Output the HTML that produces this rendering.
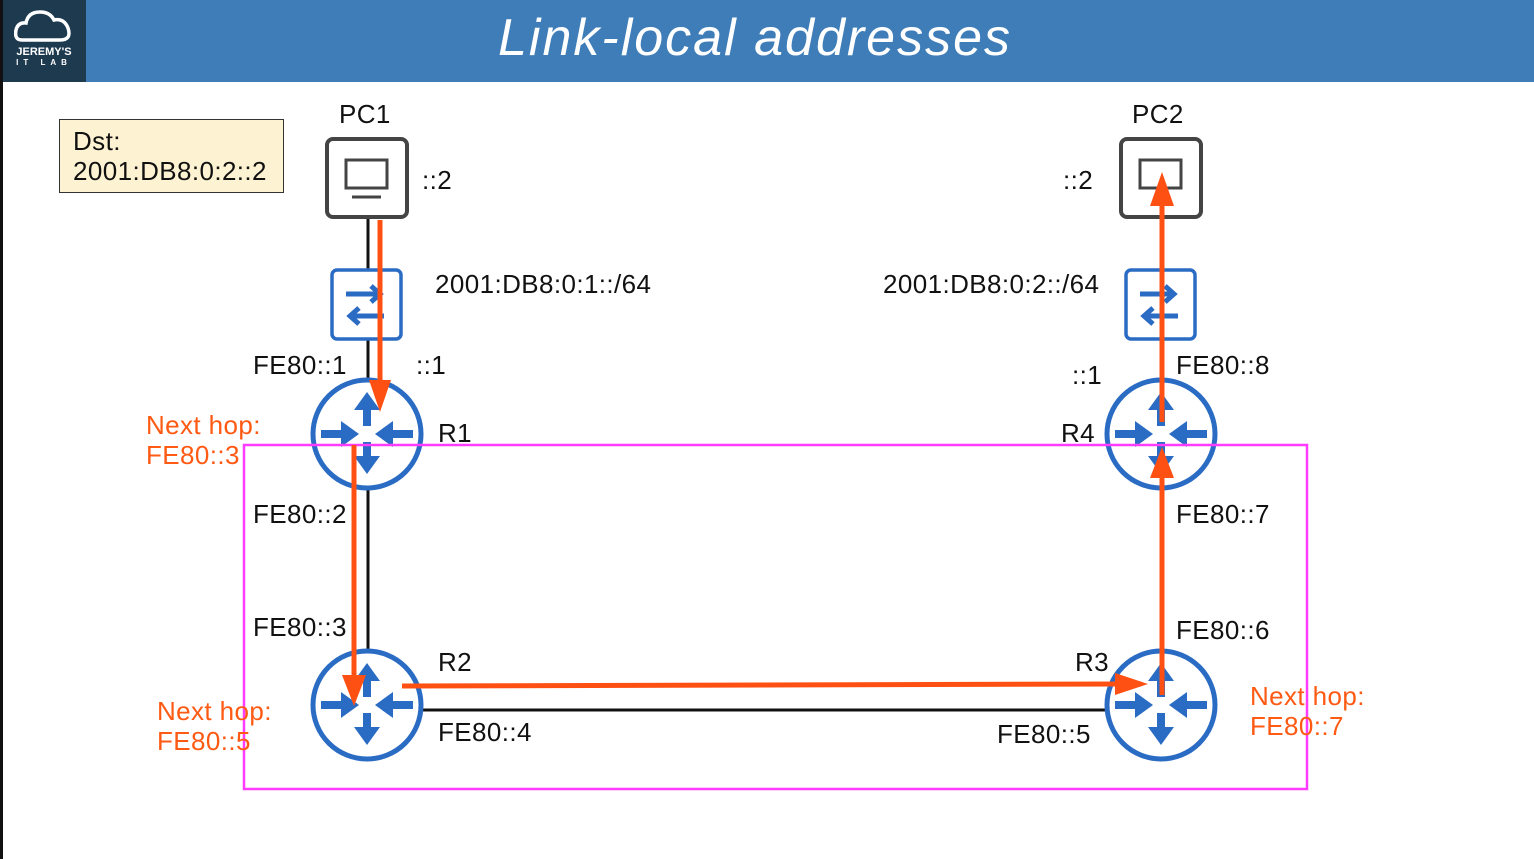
<!DOCTYPE html>
<html><head><style>
body{margin:0;width:1534px;height:859px;background:#fff;position:relative;overflow:hidden;font-family:"Liberation Sans",sans-serif}
.t{position:absolute;font-size:26px;letter-spacing:0.4px;color:#111;white-space:nowrap;line-height:1}
.o{color:#ff5a14}
</style></head><body>
<div style="position:absolute;left:0;top:0;width:3px;height:859px;background:#111"></div>
<div style="position:absolute;left:3px;top:0;width:1531px;height:82px;background:#3f7db8"></div>
<div style="position:absolute;left:3px;top:0;width:83px;height:82px;background:#1e3a4f"></div>
<div style="position:absolute;left:8px;top:47px;color:#fff;font-size:11px;font-weight:bold;width:72px;text-align:center;line-height:10px">JEREMY'S<br><span style="font-size:8px;letter-spacing:5px">IT LAB</span></div>
<svg style="position:absolute;left:14px;top:8px" width="60" height="36"><path d="M8 32 Q0 32 2 22 Q4 14 12 15 Q14 4 26 4 Q36 4 40 12 Q50 10 54 20 Q58 32 46 32 Z" fill="none" stroke="#fff" stroke-width="3.5"/></svg>
<div style="position:absolute;left:498px;top:8px;color:#fff;font-size:52px;font-style:italic;font-family:'Liberation Sans',sans-serif;letter-spacing:2px">Link-local addresses</div>
<div style="position:absolute;left:59px;top:119px;width:223px;height:72px;background:#fdf2d2;border:1px solid #333"></div>
<div class="t" style="left:73px;top:128px">Dst:</div>
<div class="t" style="left:73px;top:158px">2001:DB8:0:2::2</div>
<svg style="position:absolute;left:0;top:0" width="1534" height="859">
<line x1="368" y1="218" x2="368" y2="710" stroke="#111" stroke-width="3"/>
<line x1="1161" y1="218" x2="1161" y2="705" stroke="#111" stroke-width="3"/>
<line x1="367" y1="710" x2="1161" y2="710" stroke="#111" stroke-width="3"/>
<g fill="#fff" stroke="#444" stroke-width="4">
<rect x="327" y="139" width="80" height="78" rx="6"/><rect x="1121" y="139" width="80" height="78" rx="6"/></g>
<g fill="none" stroke="#444" stroke-width="3"><rect x="346" y="160" width="41" height="28"/><line x1="352" y1="197" x2="381" y2="197"/><rect x="1140" y="160" width="41" height="28"/></g>
<g fill="#fff" stroke="#2a6bc4" stroke-width="3.5"><rect x="332" y="270" width="69" height="69" rx="5"/><rect x="1126" y="270" width="69" height="69" rx="5"/></g>
<g stroke="#2a6bc4" stroke-width="5" fill="none">
<path d="M346 294h34m-9-8l9 8-9 8M350 316h34m-25-8l-9 8 9 8"/>
<path d="M1140 294h34m-9-8l9 8-9 8M1144 316h34m-25-8l-9 8 9 8"/>
</g>
<g fill="#fff" stroke="#2a6bc4" stroke-width="5">
<circle cx="367" cy="434" r="54"/><circle cx="367" cy="705" r="54"/><circle cx="1161" cy="705" r="54"/><circle cx="1161" cy="434" r="54"/></g>
<defs><g id="ar" stroke="#2a6bc4" stroke-width="8" fill="#2a6bc4">
<line x1="0" y1="-8" x2="0" y2="-26"/><path d="M-13 -24L0 -42L13 -24Z" stroke="none"/>
<line x1="0" y1="8" x2="0" y2="26"/><path d="M-13 22L0 40L13 22Z" stroke="none"/>
<line x1="-46" y1="0" x2="-22" y2="0"/><path d="M-26 -13L-8 0L-26 13Z" stroke="none"/>
<line x1="46" y1="0" x2="22" y2="0"/><path d="M26 -13L8 0L26 13Z" stroke="none"/></g></defs>
<use href="#ar" x="367" y="434"/><use href="#ar" x="367" y="705"/><use href="#ar" x="1161" y="705"/><use href="#ar" x="1161" y="434"/>
<rect x="244" y="445" width="1063" height="344" fill="none" stroke="#ff3cff" stroke-width="2.5"/>
<g stroke="#ff5014" stroke-width="5" fill="#ff5014">
<line x1="380" y1="220" x2="380" y2="385"/><path d="M369 380L380 412L391 380Z" stroke="none"/>
<line x1="354" y1="445" x2="354" y2="680"/><path d="M342 675L354 706L366 675Z" stroke="none"/>
<line x1="402" y1="686" x2="1120" y2="684"/><path d="M1115 673L1148 684L1115 695Z" stroke="none"/>
<line x1="1162" y1="695" x2="1162" y2="475"/><path d="M1150 478L1162 447L1174 478Z" stroke="none"/>
<line x1="1162" y1="422" x2="1162" y2="200"/><path d="M1150 206L1162 172L1174 206Z" stroke="none"/>
</g>
</svg>
<div class="t" style="left:339px;top:101px">PC1</div>
<div class="t" style="left:1132px;top:101px">PC2</div>
<div class="t" style="left:422px;top:167px">::2</div>
<div class="t" style="left:1063px;top:167px">::2</div>
<div class="t" style="left:435px;top:271px">2001:DB8:0:1::/64</div>
<div class="t" style="left:883px;top:271px">2001:DB8:0:2::/64</div>
<div class="t" style="left:253px;top:352px">FE80::1</div>
<div class="t" style="left:416px;top:352px">::1</div>
<div class="t" style="left:1072px;top:362px">::1</div>
<div class="t" style="left:1176px;top:352px">FE80::8</div>
<div class="t" style="left:438px;top:420px">R1</div>
<div class="t" style="left:1061px;top:420px">R4</div>
<div class="t o" style="left:146px;top:412px">Next hop:</div>
<div class="t o" style="left:146px;top:442px">FE80::3</div>
<div class="t" style="left:253px;top:501px">FE80::2</div>
<div class="t" style="left:1176px;top:501px">FE80::7</div>
<div class="t" style="left:253px;top:614px">FE80::3</div>
<div class="t" style="left:1176px;top:617px">FE80::6</div>
<div class="t" style="left:438px;top:649px">R2</div>
<div class="t" style="left:1075px;top:649px">R3</div>
<div class="t o" style="left:157px;top:698px">Next hop:</div>
<div class="t o" style="left:157px;top:728px">FE80::5</div>
<div class="t o" style="left:1250px;top:683px">Next hop:</div>
<div class="t o" style="left:1250px;top:713px">FE80::7</div>
<div class="t" style="left:438px;top:719px">FE80::4</div>
<div class="t" style="left:997px;top:721px">FE80::5</div>
</body></html>
